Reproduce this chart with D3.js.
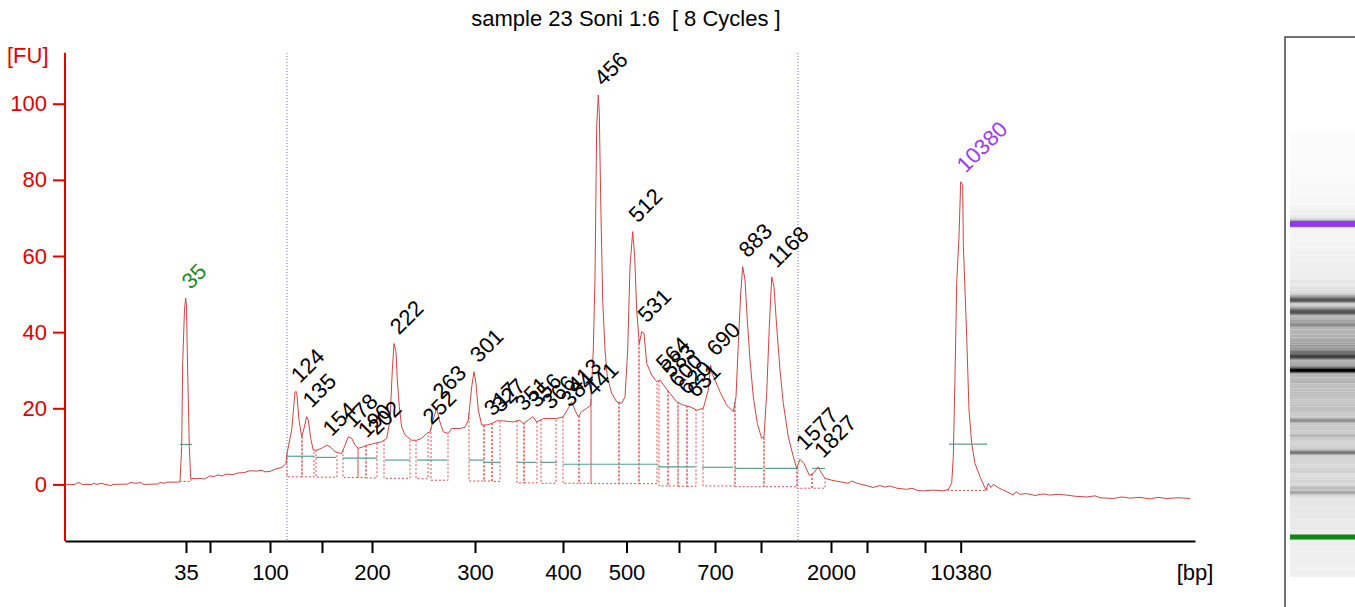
<!DOCTYPE html>
<html>
<head>
<meta charset="utf-8">
<script src="https://cdn.jsdelivr.net/npm/d3@7"></script>
<style>
  body { margin: 0; background: #fff; }
  svg { display: block; }
  text { font-family: 'Liberation Sans', Arial, sans-serif; }
</style>
</head>
<body>
<script>
// ---- data (x is migration time in s, y is fluorescence in FU) ----
const title = 'sample 23 Soni 1:6  [ 8 Cycles ]';

const ladderBp   = [35, 50, 100, 150, 200, 300, 400, 500, 600, 700, 1000, 2000, 3000, 7000, 10380];
const ladderTime = [31.6, 34.0, 40.0, 45.2, 50.2, 60.5, 69.3, 75.65, 80.9, 84.5, 89.1, 96.1, 99.7, 105.5, 109.07];
const labeledBp  = [35, 100, 200, 300, 400, 500, 700, 2000, 10380];

const fuTicks = [0, 20, 40, 60, 80, 100];

const trace = [
  [19.5,0.0],[20.5,0.0],[20.7,0.4],[21.0,0.4],[21.2,0.0],[22.2,0.0],[22.4,0.4],[22.6,0.0],
  [23.2,0.3],[23.5,0.0],[24.1,-0.3],[24.3,0.0],[25.8,0.1],[26.0,0.5],[26.6,0.3],[27.1,0.5],
  [27.3,0.0],[28.8,0.1],[29.0,0.5],[29.4,0.3],[29.7,0.6],[30.8,0.6],[31.0,0.7],[31.17,9.9],
  [31.27,31.9],[31.45,46.0],[31.57,48.9],[31.65,47.0],[31.73,34.5],[31.93,9.9],[32.07,1.6],
  [32.6,1.5],[33.0,1.6],[33.4,1.4],[33.8,1.9],[34.0,2.3],[34.3,2.0],[34.8,2.5],[35.2,2.2],
  [35.6,2.7],[36.3,2.6],[36.8,3.0],[37.4,3.1],[38.0,3.6],[38.6,3.5],[39.2,3.7],[39.5,3.3],
  [40.0,3.4],[40.5,4.0],[41.2,4.5],[41.6,5.5],[41.67,7.7],[42.17,14.3],[42.5,24.3],[42.67,24.3],
  [42.9,16.9],[43.17,12.5],[43.4,14.7],[43.67,17.8],[43.83,16.9],[44.07,12.1],[44.33,9.0],
  [44.67,9.0],[45.17,9.5],[45.67,10.3],[46.0,9.9],[46.5,8.6],[47.17,8.1],[47.5,10.3],[47.83,12.5],
  [48.17,12.1],[48.5,10.3],[48.83,9.5],[49.33,9.9],[49.73,10.3],[50.17,10.6],[50.67,10.9],
  [51.17,11.2],[51.67,12.1],[52.0,16.9],[52.23,30.0],[52.4,37.0],[52.6,34.8],[52.73,27.4],
  [52.93,20.4],[53.17,15.1],[53.5,13.0],[54.17,11.6],[54.67,11.6],[55.17,12.1],[55.67,13.4],
  [56.0,13.8],[56.4,17.8],[56.67,20.0],[56.93,16.9],[57.33,13.8],[57.83,13.4],[58.17,14.7],
  [59.0,14.7],[59.5,15.0],[59.83,16.9],[60.17,25.6],[60.4,29.6],[60.6,26.5],[60.83,19.5],
  [61.17,15.6],[61.67,15.6],[62.17,16.0],[62.67,16.7],[63.33,16.7],[64.33,16.4],[64.93,16.9],
  [65.33,16.0],[65.83,16.9],[66.27,17.8],[66.67,16.4],[67.33,17.3],[68.0,17.3],[68.67,17.3],
  [69.33,17.8],[69.83,20.0],[70.17,21.7],[70.5,19.5],[70.83,17.8],[71.17,19.1],[71.67,20.0],
  [72.07,20.8],[72.33,35.3],[72.5,54.5],[72.67,94.0],[72.83,102.3],[72.93,97.5],[73.07,74.7],
  [73.27,48.4],[73.5,35.3],[73.73,28.3],[74.17,23.9],[74.67,21.7],[75.17,21.3],[75.5,23.0],
  [75.77,35.3],[76.0,57.2],[76.27,66.4],[76.47,59.8],[76.67,45.8],[76.93,37.0],[77.17,40.1],
  [77.4,39.7],[77.67,31.8],[78.17,28.7],[78.67,27.0],[79.0,27.4],[79.5,25.6],[80.0,23.9],
  [80.67,21.7],[81.33,20.8],[82.0,20.4],[82.67,19.5],[83.33,20.0],[83.83,24.8],[84.07,31.3],
  [84.2,29.2],[84.5,27.4],[85.0,24.3],[85.67,20.8],[86.33,19.1],[86.6,23.0],[86.83,37.0],
  [87.07,50.2],[87.27,57.2],[87.5,53.7],[87.73,43.2],[88.0,32.7],[88.33,23.0],[88.73,16.0],
  [89.17,12.1],[89.4,12.5],[89.67,23.9],[89.93,41.4],[90.17,54.5],[90.4,51.9],[90.67,41.4],
  [91.0,30.0],[91.33,21.3],[91.83,12.5],[92.33,7.3],[92.67,4.2],[93.0,6.6],[93.4,5.5],
  [93.93,2.4],[94.33,2.9],[94.83,4.6],[95.17,2.9],[95.5,1.6],[96.17,1.1],[97.0,0.7],[97.8,0.3],
  [98.2,0.9],[98.7,0.3],[99.5,-0.2],[100.3,-0.8],[101.0,-0.3],[101.5,-0.7],[102.0,-0.4],
  [102.7,-1.0],[103.67,-1.3],[104.2,-1.0],[104.8,-1.6],[105.33,-1.7],[106.3,-1.5],[107.33,-1.7],
  [107.83,-1.3],[108.17,0.3],[108.33,7.3],[108.5,28.3],[108.67,52.8],[108.9,65.1],[109.07,79.5],
  [109.27,78.6],[109.33,63.3],[109.67,38.8],[109.9,19.5],[110.17,10.8],[110.5,5.5],[111.0,2.0],
  [111.6,-1.5],[111.83,0.3],[112.1,-0.8],[112.33,0.0],[113.0,-1.1],[113.6,-1.8],[114.33,-2.8],
  [114.6,-1.9],[115.0,-2.6],[115.67,-2.4],[116.5,-2.9],[117.3,-2.5],[118.0,-2.8],[118.8,-2.6],
  [119.67,-2.8],[120.5,-3.1],[121.67,-3.3],[122.5,-3.0],[123.0,-3.5],[124.33,-3.7],[125.2,-3.3],
  [126.0,-3.6],[127.0,-3.4],[128.0,-3.8],[128.8,-3.4],[129.67,-3.7],[130.8,-3.5],[132.0,-3.7]
];

// called peaks: size label, time of apex, height at apex
const peakBp   = [35, 124, 135, 154, 178, 190, 202, 222, 252, 263, 301, 317, 327, 351, 356, 366, 384, 413, 441,
                  456, 512, 531, 564, 583, 600, 620, 631, 690, 883, 1168, 1577, 1827, 10380];
const peakTime = [31.57, 42.5, 43.67, 45.67, 47.83, 49.2, 50.2, 52.4, 55.67, 56.67, 60.4, 61.8, 62.6, 64.9, 66.2, 67.6, 69.5, 70.17, 71.9,
                  72.83, 76.27, 77.17, 79.0, 79.6, 80.3, 81.2, 82.1, 84.07, 87.27, 90.17, 93.0, 94.83, 109.07];
const peakFU   = [48.9, 24.3, 17.8, 10.3, 12.5, 9.9, 10.6, 37.0, 13.4, 20.0, 29.6, 15.6, 16.5, 16.9, 17.8, 17.3, 18.0, 21.7, 20.8,
                  102.3, 66.4, 40.1, 27.4, 25.6, 23.0, 21.2, 20.4, 31.3, 57.2, 54.5, 6.6, 4.6, 79.5];

const lowerMarker = 35;
const upperMarker = 10380;

// integration windows: start time, end time, baseline FU
const windows = [
  [31.0,32.1,0.8],[41.7,43.2,2.0],[43.2,44.4,2.0],[44.6,46.7,1.9],[47.3,48.8,1.8],[48.8,49.6,1.8],
  [49.6,50.7,1.7],[51.4,54.0,1.6],[54.6,55.8,1.5],[56.1,57.8,1.1],[59.9,61.4,0.9],[61.4,62.2,0.9],
  [62.2,63.0,0.8],[64.7,65.4,0.4],[65.4,66.7,0.4],[67.1,68.6,0.3],[69.3,70.9,0.3],[70.9,72.1,0.3],
  [72.1,74.9,0.2],[74.9,76.9,0.2],[76.9,78.7,0.2],[78.9,79.8,-0.4],[79.8,80.8,-0.4],[80.8,81.7,-0.5],
  [81.7,82.6,-0.5],[83.3,86.5,-0.4],[86.5,89.4,-0.6],[89.4,92.7,-0.6],[92.7,94.2,-1.0],[94.2,95.5,-1.0],
  [107.8,111.7,-1.6]
];

// peak width markers: start time, end time, FU
const widthBars = [
  [31.0,32.2,10.5],[41.7,44.4,7.4],[44.6,46.6,7.1],[47.3,50.7,6.9],[51.5,54.0,6.4],[54.7,57.7,6.4],
  [59.9,61.4,6.4],[61.4,63.0,5.8],[64.7,66.6,5.8],[67.0,68.7,5.8],[69.3,78.7,5.3],[78.8,82.5,4.6],
  [83.2,86.3,4.5],[86.5,89.3,4.2],[89.5,92.8,4.2],[94.2,95.5,4.2],[107.9,111.7,10.6]
];

// smear region limits (s)
const regionTimes = [41.7, 92.8];

// ---- chart ----
const W = 1355, H = 607;
const svg = d3.select('body').append('svg').attr('width', W).attr('height', H);

const x = d3.scaleLinear().domain([19.5, 132.5]).range([65, 1195]);
const y = d3.scaleLinear().domain([-14.6, 113.4]).range([540, 52.7]);

const bisect = d3.bisector(d => d[0]).left;
function traceAt(t) {
  const i = bisect(trace, t);
  if (i <= 0) return trace[0][1];
  if (i >= trace.length) return trace[trace.length - 1][1];
  const a = trace[i - 1], b = trace[i];
  return a[1] + (b[1] - a[1]) * (t - a[0]) / (b[0] - a[0]);
}

svg.append('text')
  .attr('x', 626)
  .attr('y', 26)
  .attr('text-anchor', 'middle')
  .style('font-size', '22px')
  .style('white-space', 'pre')
  .attr('fill', '#000')
  .text(title);

// region lines
svg.append('g')
  .selectAll('line')
  .data(regionTimes)
  .join('line')
  .attr('x1', d => x(d)).attr('x2', d => x(d))
  .attr('y1', 53).attr('y2', 541)
  .attr('stroke', '#6b6bd6')
  .attr('stroke-width', 1)
  .attr('stroke-dasharray', '1,2');

// dashed integration windows
svg.append('g')
  .selectAll('path')
  .data(windows)
  .join('path')
  .attr('d', d => 'M' + x(d[0]) + ',' + y(traceAt(d[0])) +
                  'V' + y(d[2]) + 'H' + x(d[1]) + 'V' + y(traceAt(d[1])))
  .attr('fill', 'none')
  .attr('stroke', '#e04a4a')
  .attr('stroke-width', 1)
  .attr('stroke-dasharray', '2,2');

// width bars
svg.append('g')
  .selectAll('line')
  .data(widthBars)
  .join('line')
  .attr('x1', d => x(d[0])).attr('x2', d => x(d[1]))
  .attr('y1', d => y(d[2])).attr('y2', d => y(d[2]))
  .attr('stroke', '#5a9f92')
  .attr('stroke-width', 1.2);

// trace
svg.append('path')
  .datum(trace)
  .attr('d', d3.line().x(d => x(d[0])).y(d => y(d[1])))
  .attr('fill', 'none')
  .attr('stroke', '#d04444')
  .attr('stroke-width', 1);

// axes
const yAxis = svg.append('g')
  .attr('transform', 'translate(65,0)')
  .call(d3.axisLeft(y).tickValues(fuTicks).tickSize(12).tickSizeOuter(0).tickPadding(6));
yAxis.select('.domain').attr('stroke', '#e00000').attr('stroke-width', 2)
  .attr('d', 'M0,' + 52.7 + 'V' + 541);
yAxis.selectAll('.tick line').attr('stroke', '#e00000').attr('stroke-width', 2);
yAxis.selectAll('.tick text').attr('fill', '#e00000').style('font-size', '22px')
  .style('font-family', "'Liberation Sans', Arial, sans-serif");

const xAxis = svg.append('g')
  .attr('transform', 'translate(0,541)')
  .call(d3.axisBottom(x).tickValues(ladderTime)
    .tickFormat((d, i) => labeledBp.includes(ladderBp[i]) ? ladderBp[i] : '')
    .tickSize(12).tickSizeOuter(0).tickPadding(11));
xAxis.select('.domain').attr('stroke', '#000').attr('stroke-width', 2);
xAxis.selectAll('.tick line').attr('stroke', '#000').attr('stroke-width', 2);
xAxis.selectAll('.tick text').attr('fill', '#000').style('font-size', '22px')
  .style('font-family', "'Liberation Sans', Arial, sans-serif");

svg.append('text')
  .attr('x', 7).attr('y', 63)
  .attr('fill', '#e00000')
  .style('font-size', '22px')
  .text('[FU]');

svg.append('text')
  .attr('x', 1195).attr('y', 580)
  .attr('text-anchor', 'middle')
  .attr('fill', '#000')
  .style('font-size', '22px')
  .text('[bp]');

// peak labels
svg.append('g')
  .selectAll('text')
  .data(peakBp)
  .join('text')
  .attr('transform', (d, i) => 'translate(' + (x(peakTime[i]) + 5) + ',' + (y(peakFU[i]) - 8) + ') rotate(-45)')
  .attr('fill', d => d === lowerMarker ? '#1e8c1e' : d === upperMarker ? '#9b3cf5' : '#000')
  .style('font-size', '22px')
  .text(d => d);

// ---- gel lane ----
const markerTime = [peakTime[peakBp.indexOf(lowerMarker)], peakTime[peakBp.indexOf(upperMarker)]];
const gel = d3.scaleLinear().domain(markerTime).range([537, 224]);
const gray = d3.scaleLinear()
  .domain([-4, -2, 0, 5, 15, 22, 35, 60, 100])
  .range(['#fdfdfd', '#f6f6f6', '#efefef', '#e2e2e2', '#c8c8c8', '#acacac', '#7a7a7a', '#4a4a4a', '#000000'])
  .clamp(true);

svg.append('clipPath').attr('id', 'lane')
  .append('rect').attr('x', 1290).attr('y', 130).attr('width', 65).attr('height', 447);

const strips = trace.map((d, i) => {
  const t0 = i > 0 ? (trace[i - 1][0] + d[0]) / 2 : d[0];
  const t1 = i < trace.length - 1 ? (trace[i + 1][0] + d[0]) / 2 : d[0];
  return {y0: gel(t1), y1: gel(t0), fu: d[1]};
}).sort((a, b) => a.fu - b.fu);

svg.append('g')
  .attr('clip-path', 'url(#lane)')
  .selectAll('rect')
  .data(strips)
  .join('rect')
  .attr('x', 1290)
  .attr('width', 65)
  .attr('y', d => Math.min(d.y0, (d.y0 + d.y1) / 2 - 0.8))
  .attr('height', d => Math.max(d.y1 - d.y0, 1.6))
  .attr('fill', d => gray(d.fu));

svg.append('g')
  .selectAll('rect')
  .data([lowerMarker, upperMarker])
  .join('rect')
  .attr('x', 1290)
  .attr('width', 65)
  .attr('y', d => gel(markerTime[d === lowerMarker ? 0 : 1]) - 2.5)
  .attr('height', 5)
  .attr('fill', d => d === lowerMarker ? '#0a8a0a' : '#9933ff');

svg.append('path')
  .attr('d', 'M1355,37H1285V607')
  .attr('fill', 'none')
  .attr('stroke', '#444')
  .attr('stroke-width', 1.5);
</script>
</body>
</html>
